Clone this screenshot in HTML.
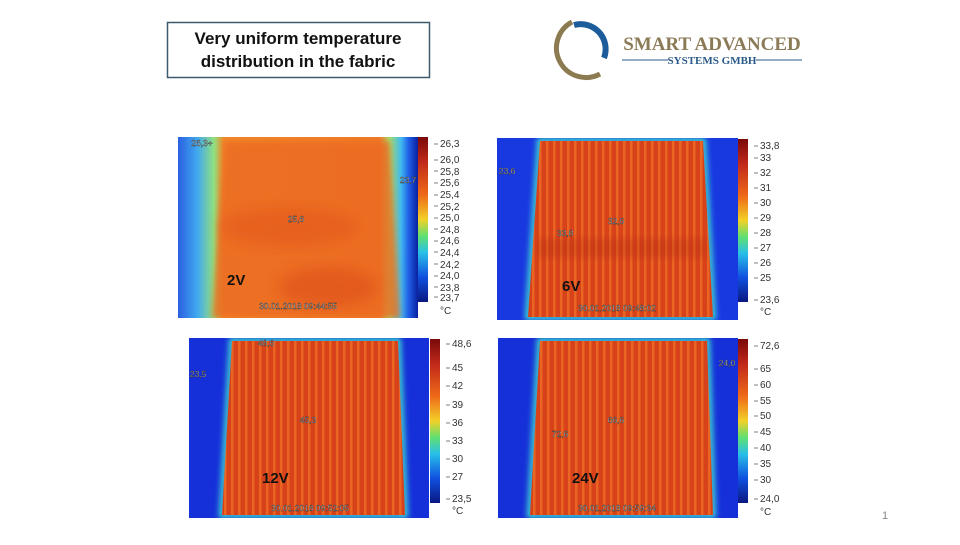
<!DOCTYPE html>
<html><head><meta charset="utf-8"><style>
body{margin:0;background:#fff;width:960px;height:540px;overflow:hidden;font-family:"Liberation Sans",sans-serif}
</style></head><body>
<svg width="960" height="540" xmlns="http://www.w3.org/2000/svg" font-family="Liberation Sans, sans-serif">
<defs>
<filter id="bl" x="-20%" y="-20%" width="140%" height="140%"><feGaussianBlur stdDeviation="3"/></filter>
<filter id="bl2" x="-20%" y="-20%" width="140%" height="140%"><feGaussianBlur stdDeviation="7"/></filter>
<pattern id="st" width="7" height="10" patternUnits="userSpaceOnUse"><rect width="7" height="10" fill="#d8421a"/><rect x="0" width="2.5" height="10" fill="#ea6422"/></pattern>
<linearGradient id="cb" x1="0" y1="0" x2="0" y2="1">
<stop offset="0" stop-color="#7a0a0a"/><stop offset="0.15" stop-color="#c0281a"/><stop offset="0.35" stop-color="#ee6a18"/><stop offset="0.5" stop-color="#f2d028"/><stop offset="0.6" stop-color="#60e070"/><stop offset="0.7" stop-color="#28c0e8"/><stop offset="0.85" stop-color="#1050e0"/><stop offset="1" stop-color="#0a1880"/></linearGradient>
<linearGradient id="bg1" x1="0" y1="0" x2="1" y2="0">
<stop offset="0" stop-color="#2a60e0"/><stop offset="0.08" stop-color="#40a8f0"/><stop offset="0.15" stop-color="#90e080"/><stop offset="0.19" stop-color="#f08a2a"/><stop offset="0.84" stop-color="#f07a26"/><stop offset="0.88" stop-color="#a0e070"/><stop offset="0.93" stop-color="#40b8f0"/><stop offset="0.96" stop-color="#2060e8"/><stop offset="1" stop-color="#0a20a0"/></linearGradient>
</defs>

<!-- title -->
<rect x="167.5" y="22.5" width="262" height="55" fill="#fff" stroke="#3d5b6f" stroke-width="1.5"/>
<text x="298" y="44" font-size="17" font-weight="bold" text-anchor="middle" fill="#111">Very uniform temperature</text>
<text x="298" y="67" font-size="17" font-weight="bold" text-anchor="middle" fill="#111">distribution in the fabric</text>

<!-- logo -->
<path d="M572 22 A29 29 0 1 0 600 74" stroke="#8c7a50" stroke-width="5" fill="none"/>
<path d="M574 25 A25 25 0 0 1 604 58" stroke="#1d5c9a" stroke-width="6" fill="none"/>
<text x="712" y="50" font-family="Liberation Serif, serif" font-size="19" font-weight="bold" text-anchor="middle" fill="#8a7a55">SMART ADVANCED</text>
<text x="712" y="64" font-family="Liberation Serif, serif" font-size="11" font-weight="bold" text-anchor="middle" fill="#2a5a8a">SYSTEMS GMBH</text>
<line x1="622" y1="60" x2="668" y2="60" stroke="#2a5a8a" stroke-width="1"/>
<line x1="756" y1="60" x2="802" y2="60" stroke="#2a5a8a" stroke-width="1"/>

<!-- panel 1 -->
<svg x="178" y="137" width="240" height="181"><rect width="240" height="181" fill="url(#bg1)"/>
<polygon points="46,4 212,4 222,181 34,181" fill="#ec6a20" filter="url(#bl)" opacity="0.8"/>
<ellipse cx="110" cy="90" rx="70" ry="20" fill="#e04a18" opacity="0.35" filter="url(#bl2)"/>
<ellipse cx="150" cy="150" rx="50" ry="20" fill="#d84018" opacity="0.4" filter="url(#bl2)"/></svg>
<rect x="418" y="137" width="10" height="165" fill="url(#cb)"/>
<g stroke="#555" stroke-width="0.8"><path d="M434 144h4M434 160h4M434 171h4M434 183h4M434 195h4M434 206h4M434 218h4M434 229h4M434 241h4M434 252h4M434 264h4M434 276h4M434 287h4M434 297h4"/></g>
<g font-size="10" fill="#333">
<text x="440" y="147">26,3</text><text x="440" y="163">26,0</text><text x="440" y="175">25,8</text><text x="440" y="186">25,6</text><text x="440" y="198">25,4</text><text x="440" y="210">25,2</text><text x="440" y="221">25,0</text><text x="440" y="233">24,8</text><text x="440" y="244">24,6</text><text x="440" y="256">24,4</text><text x="440" y="268">24,2</text><text x="440" y="279">24,0</text><text x="440" y="291">23,8</text><text x="440" y="301">23,7</text><text x="440" y="314">°C</text></g>
<text x="227" y="285" font-size="15" font-weight="bold" fill="#111">2V</text>
<text x="298" y="309" font-size="8.5" fill="#fff" stroke="#333" stroke-width="0.4" text-anchor="middle">30.01.2018 09:44:55</text>
<text x="296" y="222" font-size="8.5" fill="#fff" stroke="#333" stroke-width="0.4" text-anchor="middle">25,6</text>
<text x="202" y="146" font-size="8.5" fill="#fff" stroke="#333" stroke-width="0.4" text-anchor="middle">26,3+</text>
<text x="408" y="183" font-size="8.5" fill="#fff" stroke="#333" stroke-width="0.4" text-anchor="middle">23,7</text>

<!-- panel 2 -->
<svg x="497" y="138" width="241" height="182"><rect width="241" height="182" fill="#1838e0"/>
<polygon points="43,3 206,3 216,179 31,179" fill="none" stroke="#40d8d0" stroke-width="6" filter="url(#bl)"/>
<polygon points="43,3 206,3 216,179 31,179" fill="url(#st)"/>
<rect x="40" y="100" width="170" height="20" fill="#a02010" opacity="0.2" filter="url(#bl)"/></svg>
<rect x="738" y="139" width="10" height="163" fill="url(#cb)"/>
<g stroke="#555" stroke-width="0.8"><path d="M754 146h4M754 158h4M754 173h4M754 188h4M754 203h4M754 218h4M754 233h4M754 248h4M754 263h4M754 278h4M754 300h4"/></g>
<g font-size="10" fill="#333">
<text x="760" y="149">33,8</text><text x="760" y="161">33</text><text x="760" y="176">32</text><text x="760" y="191">31</text><text x="760" y="206">30</text><text x="760" y="221">29</text><text x="760" y="236">28</text><text x="760" y="251">27</text><text x="760" y="266">26</text><text x="760" y="281">25</text><text x="760" y="303">23,6</text><text x="760" y="315">°C</text></g>
<text x="562" y="291" font-size="15" font-weight="bold" fill="#111">6V</text>
<text x="617" y="311" font-size="8.5" fill="#fff" stroke="#333" stroke-width="0.4" text-anchor="middle">30.01.2018 09:48:02</text>
<text x="616" y="224" font-size="8.5" fill="#fff" stroke="#333" stroke-width="0.4" text-anchor="middle">32,6</text>
<text x="565" y="236" font-size="8.5" fill="#fff" stroke="#333" stroke-width="0.4" text-anchor="middle">33,8</text>
<text x="507" y="174" font-size="8.5" fill="#fff" stroke="#333" stroke-width="0.4" text-anchor="middle">23,6</text>

<!-- panel 3 -->
<svg x="189" y="338" width="240" height="180"><rect width="240" height="180" fill="#1530d8"/>
<polygon points="43,3 209,3 216,177 33,177" fill="none" stroke="#40d8d0" stroke-width="6" filter="url(#bl)"/>
<polygon points="43,3 209,3 216,177 33,177" fill="url(#st)"/></svg>
<rect x="430" y="339" width="10" height="164" fill="url(#cb)"/>
<g stroke="#555" stroke-width="0.8"><path d="M446 344h4M446 368h4M446 386h4M446 405h4M446 423h4M446 441h4M446 459h4M446 477h4M446 499h4"/></g>
<g font-size="10" fill="#333">
<text x="452" y="347">48,6</text><text x="452" y="371">45</text><text x="452" y="389">42</text><text x="452" y="408">39</text><text x="452" y="426">36</text><text x="452" y="444">33</text><text x="452" y="462">30</text><text x="452" y="480">27</text><text x="452" y="502">23,5</text><text x="452" y="514">°C</text></g>
<text x="262" y="483" font-size="15" font-weight="bold" fill="#111">12V</text>
<text x="310" y="511" font-size="8.5" fill="#fff" stroke="#333" stroke-width="0.4" text-anchor="middle">30.01.2018 09:52:05</text>
<text x="308" y="423" font-size="8.5" fill="#fff" stroke="#333" stroke-width="0.4" text-anchor="middle">45,3</text>
<text x="266" y="346" font-size="8.5" fill="#fff" stroke="#333" stroke-width="0.4" text-anchor="middle">48,6</text>
<text x="198" y="377" font-size="8.5" fill="#fff" stroke="#333" stroke-width="0.4" text-anchor="middle">23,5</text>

<!-- panel 4 -->
<svg x="498" y="338" width="240" height="180"><rect width="240" height="180" fill="#1530d8"/>
<polygon points="42,3 209,3 215,177 32,177" fill="none" stroke="#40d8d0" stroke-width="6" filter="url(#bl)"/>
<polygon points="42,3 209,3 215,177 32,177" fill="url(#st)"/></svg>
<rect x="738" y="339" width="10" height="164" fill="url(#cb)"/>
<g stroke="#555" stroke-width="0.8"><path d="M754 346h4M754 369h4M754 385h4M754 401h4M754 416h4M754 432h4M754 448h4M754 464h4M754 480h4M754 499h4"/></g>
<g font-size="10" fill="#333">
<text x="760" y="349">72,6</text><text x="760" y="372">65</text><text x="760" y="388">60</text><text x="760" y="404">55</text><text x="760" y="419">50</text><text x="760" y="435">45</text><text x="760" y="451">40</text><text x="760" y="467">35</text><text x="760" y="483">30</text><text x="760" y="502">24,0</text><text x="760" y="515">°C</text></g>
<text x="572" y="483" font-size="15" font-weight="bold" fill="#111">24V</text>
<text x="617" y="511" font-size="8.5" fill="#fff" stroke="#333" stroke-width="0.4" text-anchor="middle">30.01.2018 09:59:34</text>
<text x="616" y="423" font-size="8.5" fill="#fff" stroke="#333" stroke-width="0.4" text-anchor="middle">66,6</text>
<text x="560" y="437" font-size="8.5" fill="#fff" stroke="#333" stroke-width="0.4" text-anchor="middle">72,6</text>
<text x="727" y="366" font-size="8.5" fill="#fff" stroke="#333" stroke-width="0.4" text-anchor="middle">24,0</text>

<text x="882" y="519" font-size="11" fill="#888">1</text>
</svg>
</body></html>
